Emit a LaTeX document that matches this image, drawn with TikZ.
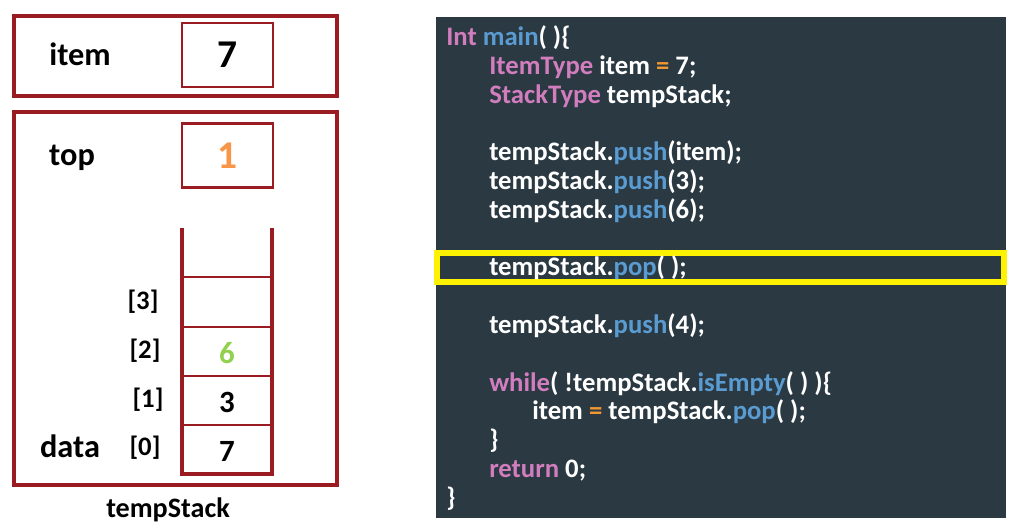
\documentclass[tikz,border=0pt]{standalone}
\usepackage{fontspec}
\setmainfont{Carlito}
\usetikzlibrary{positioning}

\definecolor{boxred}{RGB}{155,27,35}
\definecolor{codebg}{RGB}{42,57,66}
\definecolor{kwpink}{RGB}{210,125,190}
\definecolor{fnblue}{RGB}{90,155,210}
\definecolor{oporange}{RGB}{240,150,50}
\definecolor{toporange}{RGB}{247,150,70}
\definecolor{valgreen}{RGB}{146,208,80}

\newcommand{\kw}[1]{\textcolor{kwpink}{#1}}
\newcommand{\fn}[1]{\textcolor{fnblue}{#1}}
\newcommand{\op}[1]{\textcolor{oporange}{#1}}

\tikzset{
    outerbox/.style={draw=boxred, line width=2.5pt},
    varbox/.style={draw=boxred, line width=2.1pt, minimum width=2.275cm, minimum height=1.6cm,
        font=\fontsize{28}{31}\selectfont\bfseries},
    lbl/.style={anchor=base, inner sep=0pt, font=\fontsize{23}{27}\selectfont\bfseries},
    idx/.style={inner sep=0pt, font=\fontsize{19}{22}\selectfont\bfseries},
    cellval/.style={anchor=base, inner sep=0pt, font=\fontsize{22}{26}\selectfont\bfseries},
    code/.style={anchor=base west, inner sep=0pt, text=white, font=\fontsize{19}{22}\selectfont\bfseries},
}

\begin{document}
\begin{tikzpicture}[x=0.025cm, y=-0.025cm]
    \useasboundingbox (0,0) rectangle (1022,528);

    % item
    \draw[outerbox] (14,16) rectangle (337,96);
    \node[lbl] (itemlbl) at (80,65) {item};
    \node[varbox] (itembox) at (227.5,55) {7};

    % tempStack
    \draw[outerbox] (14,112) rectangle (337,485);
    \node[lbl] (toplbl) at (72,165) {top};
    \node[varbox, text=toporange] (topbox) at (227.5,155.5) {1};

    \draw[draw=boxred, line width=2.5pt] (182,228) -- (182,474) -- (272,474) -- (272,228);
    \foreach \y in {277,327,376,425}
        \draw[draw=boxred, line width=0.8pt] (182,\y) -- (272,\y);

    \node[idx] (idx3) at (143,302) {[3]};
    \node[idx] (idx2) at (145,351) {[2]};
    \node[idx] (idx1) at (148,400) {[1]};
    \node[idx] (idx0) at (145,448) {[0]};
    \node[lbl] (datalbl) at (70,457) {data};

    \node[cellval, text=valgreen] (cell2) at (227,363) {6};
    \node[cellval] (cell1) at (227,412) {3};
    \node[cellval] (cell0) at (227,461) {7};

    \node[lbl, font=\fontsize{20}{24}\selectfont\bfseries] (stackname) at (168,517) {tempStack};

    % code panel
    \fill[codebg] (436,17) rectangle (1006,518);
    \draw[yellow, line width=3.6pt] (437,253) rectangle (1004,282);

    \node[code] (line0)  at (446,45.5)  {\kw{Int} \fn{main}( )\{};
    \node[code] (line1)  at (489,74.3)  {\kw{ItemType} item \op{=} 7;};
    \node[code] (line2)  at (489,103.1) {\kw{StackType} tempStack;};
    \node[code] (line4)  at (489,160.7) {tempStack.\fn{push}(item);};
    \node[code] (line5)  at (489,189.5) {tempStack.\fn{push}(3);};
    \node[code] (line6)  at (489,218.3) {tempStack.\fn{push}(6);};
    \node[code] (line8)  at (489,275.9) {tempStack.\fn{pop}( );};
    \node[code] (line10) at (489,333.5) {tempStack.\fn{push}(4);};
    \node[code] (line12) at (489,391.1) {\kw{while}( !tempStack.\fn{isEmpty}( ) )\{};
    \node[code] (line13) at (532,419.9) {item \op{=} tempStack.\fn{pop}( );};
    \node[code] (line14) at (489,448.7) {\}};
    \node[code] (line15) at (489,477.5) {\kw{return} 0;};
    \node[code] (line16) at (446,506.3) {\}};
\end{tikzpicture}
\end{document}
